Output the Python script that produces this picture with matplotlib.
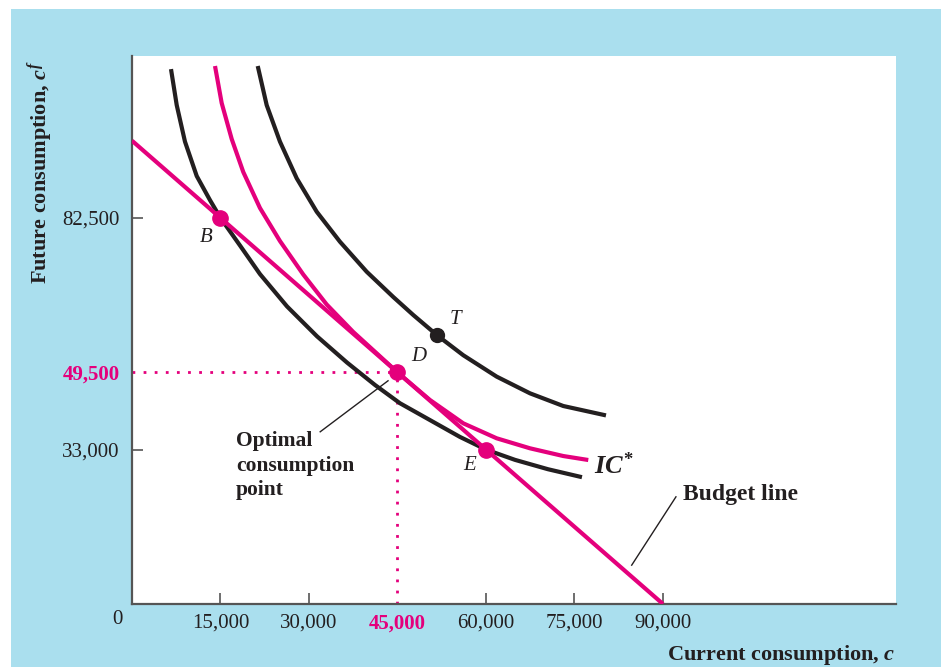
import matplotlib
matplotlib.use("Agg")
import matplotlib.pyplot as plt
from matplotlib.patches import Rectangle

plt.rcParams['font.family'] = ['Liberation Serif', 'DejaVu Serif']
plt.rcParams['mathtext.fontset'] = 'custom'
plt.rcParams['mathtext.it'] = 'Liberation Serif:italic:bold'
plt.rcParams['mathtext.rm'] = 'Liberation Serif:bold'
plt.rcParams['mathtext.bf'] = 'Liberation Serif:bold'

# ---- data (in units of currency) ----
budget_x = [0, 90000]
budget_y = [99000, 0]

ic_low_x = [6610, 7580, 8980, 10970, 13220, 15000, 18310, 21690, 26270, 31360, 36440,
            41190, 45420, 50510, 55590, 60000, 64920, 70510, 76270]
ic_low_y = [114300, 106600, 98800, 91450, 86300, 82500, 76600, 70500, 63600, 57200, 51600,
            46800, 42900, 39300, 35700, 33000, 30800, 28800, 27100]

ic_star_x = [14070, 15200, 16900, 18860, 21690, 25080, 29030, 33000, 37510, 41470, 45000,
             50510, 56150, 61810, 67460, 73100, 77340]
ic_star_y = [114960, 107050, 99360, 92310, 84620, 77560, 70410, 64000, 58120, 53570, 49500,
             43590, 38610, 35410, 33270, 31620, 30770]

ic_high_x = [21310, 22830, 25080, 27920, 31310, 35250, 39780, 44290, 47680, 51750, 56150,
             61810, 67460, 73100, 80340]
ic_high_y = [114960, 106600, 98800, 90960, 83820, 77410, 71000, 65600, 61750, 57390, 53160,
             48590, 45020, 42310, 40300]

pt_x = [15000, 45000, 60000]
pt_y = [82500, 49500, 33000]
T_x, T_y = 51750, 57390

xticks = [15000, 30000, 45000, 60000, 75000, 90000]
xtick_labels = ['15,000', '30,000', '45,000', '60,000', '75,000', '90,000']
yticks = [33000, 49500, 82500]
ytick_labels = ['33,000', '49,500', '82,500']

MAG = '#e4007c'
INK = '#231f20'
BLUE = '#aadfee'

fig = plt.figure(figsize=(9.41, 6.67), dpi=100)
fig.patch.set_facecolor('white')
fig.patches.append(Rectangle((11/941, 0), 1, 1 - 9/667, transform=fig.transFigure,
                             facecolor=BLUE, edgecolor='none', zorder=-10))

ax = fig.add_axes([132/941, 1 - 604/667, (896-132)/941, (604-56)/667])
ax.set_facecolor('white')
ax.set_xlim(0, 129500)
ax.set_ylim(0, 117100)

for s in ['top', 'right']:
    ax.spines[s].set_visible(False)
for s in ['left', 'bottom']:
    ax.spines[s].set_color('#555555')
    ax.spines[s].set_linewidth(1.6)

# dotted guide lines
ax.plot([0, pt_x[1]], [pt_y[1], pt_y[1]], color=MAG, ls=(0, (1, 3)), lw=2, zorder=2)
ax.plot([pt_x[1], pt_x[1]], [0, pt_y[1]], color=MAG, ls=(0, (1, 3)), lw=2, zorder=2)

# curves
kw = dict(lw=3, solid_capstyle='butt', solid_joinstyle='round')
ax.plot(ic_low_x, ic_low_y, color=INK, zorder=3, **kw)
ax.plot(ic_high_x, ic_high_y, color=INK, zorder=3, **kw)
ax.plot(ic_star_x, ic_star_y, color=MAG, zorder=4, **kw)
ax.plot(budget_x, budget_y, color=MAG, zorder=4, **kw)

# points
ax.plot(pt_x, pt_y, 'o', color=MAG, ms=11, zorder=6)
ax.plot([T_x], [T_y], 'o', color=INK, ms=10, zorder=6)

# point labels
lab_fs = 15
for name, lx, ly in [('B', 12500, 78400), ('D', 48600, 52800), ('E', 57300, 29500), ('T', 54900, 60900)]:
    ax.text(lx, ly, name, style='italic', fontsize=lab_fs, color=INK, ha='center', va='center')
ax.text(78300, 29500, r'$IC^{*}$', fontsize=19, color=INK, ha='left', va='center')

# annotations
ax.text(17600, 37000, 'Optimal\nconsumption\npoint', fontsize=15.5, fontweight='bold', color=INK,
        ha='left', va='top', linespacing=1.32)
ax.plot([31900, 43400], [36800, 47700], color=INK, lw=1)
ax.text(93400, 23500, 'Budget line', fontsize=17, fontweight='bold', color=INK, ha='left', va='center')
ax.plot([84700, 92200], [8300, 22900], color=INK, lw=1)

# ticks
ax.set_xticks(xticks)
ax.set_xticklabels(xtick_labels)
ax.set_yticks(yticks)
ax.set_yticklabels(ytick_labels)
ax.tick_params(direction='in', length=8, width=1.2, color='#555555', labelsize=15, labelcolor=INK)
ax.tick_params(axis='x', pad=7)
ax.tick_params(axis='y', pad=9)
for i, v in enumerate(xticks):
    if v == 45000:
        t = ax.xaxis.get_major_ticks()[i]
        t.tick1line.set_visible(False)
        t.label1.set_color(MAG)
        t.label1.set_fontweight('bold')
for i, v in enumerate(yticks):
    if v == 49500:
        t = ax.yaxis.get_major_ticks()[i]
        t.tick1line.set_visible(False)
        t.label1.set_color(MAG)
        t.label1.set_fontweight('bold')

ax.text(-2500, -3400, '0', fontsize=15, color=INK, ha='center', va='center', clip_on=False)

# axis labels
fig.text(895/941, 1 - 655/667, 'Current consumption, $c$', fontsize=16, fontweight='bold',
         color=INK, ha='right', va='center')
fig.text(40/941, 1 - 172/667, 'Future consumption, $c^{f}$', fontsize=16,
         fontweight='bold', color=INK, ha='center', va='center', rotation=90)

fig.savefig('out.png', dpi=100, facecolor=fig.get_facecolor())
